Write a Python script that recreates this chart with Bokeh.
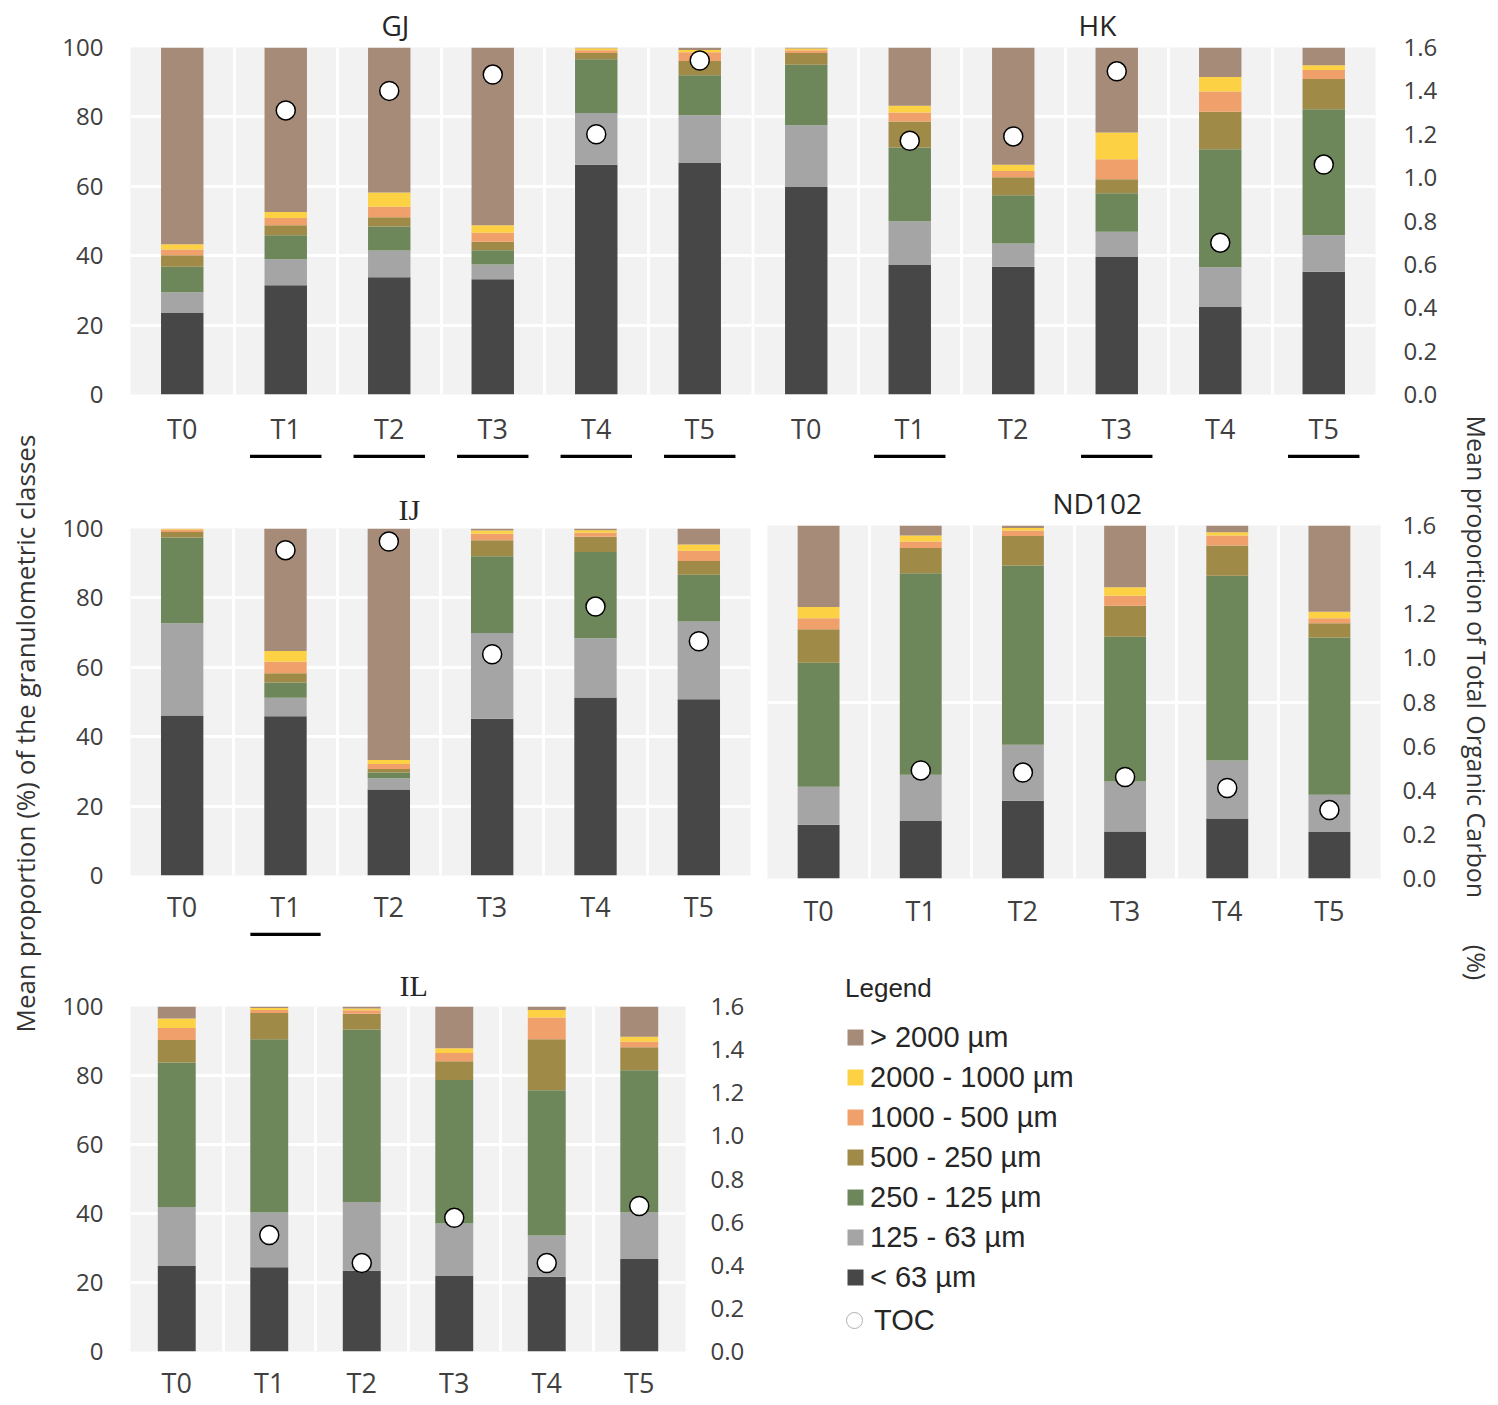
import numpy as np
from bokeh.plotting import figure
from bokeh.models import (ColumnDataSource, Range1d, LinearAxis, FixedTicker, Label,
                          Legend, LegendItem, PrintfTickFormatter)
from bokeh.layouts import row, column
from bokeh.embed import file_html
from bokeh.resources import INLINE

# ---------------- data ----------------
TIMES = ["T0", "T1", "T2", "T3", "T4", "T5"]
CLASSES = ["< 63 µm", "125 - 63 µm", "250 - 125 µm", "500 - 250 µm",
           "1000 - 500 µm", "2000 - 1000 µm", "> 2000 µm"]
KEYS = ["c63", "c125", "c250", "c500", "c1000", "c2000", "c2000p"]
COLORS = ["#474747", "#a5a5a5", "#6d875a", "#a08a47", "#f0a16b", "#fcd144", "#a78b79"]

# mean proportion (%) per class (bottom -> top), columns T0..T5
GJ_PCT = [
    [23.5, 31.5, 33.8, 33.2, 66.2, 66.7],
    [6.0, 7.5, 7.7, 4.3, 14.9, 13.8],
    [7.3, 6.9, 6.9, 4.1, 15.5, 11.5],
    [3.3, 2.9, 2.7, 2.4, 1.8, 4.1],
    [1.7, 2.1, 3.0, 2.6, 0.8, 2.5],
    [1.5, 1.7, 4.1, 2.2, 0.6, 0.7],
    [56.7, 47.4, 41.8, 51.2, 0.2, 0.7],
]
HK_PCT = [
    [59.8, 37.3, 36.8, 39.6, 25.2, 35.4],
    [17.8, 12.6, 6.7, 7.3, 11.5, 10.5],
    [17.4, 21.3, 13.9, 11.1, 34.0, 36.3],
    [3.4, 7.5, 5.2, 4.0, 10.8, 8.7],
    [0.8, 2.6, 1.8, 5.8, 5.8, 2.6],
    [0.5, 1.9, 1.8, 7.7, 4.2, 1.4],
    [0.3, 16.8, 33.8, 24.5, 8.5, 5.1],
]
IJ_PCT = [
    [46.1, 45.9, 24.8, 45.2, 51.3, 50.8],
    [26.6, 5.3, 3.2, 24.7, 17.1, 22.4],
    [24.7, 4.4, 1.7, 22.1, 24.8, 13.5],
    [1.6, 2.7, 1.0, 4.6, 4.4, 3.9],
    [0.7, 3.3, 1.4, 1.9, 1.2, 3.0],
    [0.2, 3.1, 1.2, 0.9, 0.7, 1.8],
    [0.1, 35.3, 66.7, 0.6, 0.5, 4.6],
]
ND_PCT = [
    [15.2, 16.3, 22.0, 13.3, 17.0, 13.2],
    [10.8, 13.1, 15.9, 14.2, 16.4, 10.5],
    [35.1, 57.1, 50.8, 41.0, 52.4, 44.6],
    [9.5, 7.1, 8.3, 8.8, 8.5, 4.0],
    [3.1, 1.9, 1.6, 2.8, 2.9, 1.4],
    [3.2, 1.7, 0.7, 2.4, 0.9, 1.9],
    [23.1, 2.8, 0.7, 17.5, 1.9, 24.4],
]
IL_PCT = [
    [24.8, 24.4, 23.4, 21.9, 21.7, 26.8],
    [17.1, 15.9, 19.9, 15.2, 11.9, 13.5],
    [41.9, 50.2, 50.0, 41.6, 42.1, 41.2],
    [6.5, 7.6, 4.6, 5.4, 14.8, 6.7],
    [3.5, 0.9, 1.0, 2.4, 6.3, 1.6],
    [2.7, 0.6, 0.5, 1.4, 2.2, 1.4],
    [3.5, 0.4, 0.6, 12.1, 1.0, 8.8],
]

# mean Total Organic Carbon (%), T0 not shown
NAN = float("nan")
GJ_TOC = [NAN, 1.31, 1.40, 1.475, 1.20, 1.54]
HK_TOC = [NAN, 1.17, 1.19, 1.49, 0.70, 1.06]
IJ_TOC = [NAN, 1.50, 1.54, 1.02, 1.24, 1.08]
ND_TOC = [NAN, 0.49, 0.48, 0.46, 0.41, 0.31]
IL_TOC = [NAN, 0.54, 0.41, 0.62, 0.41, 0.675]

# significance underlines
GJ_SIG = [0, 1, 1, 1, 1, 1]
HK_SIG = [0, 1, 0, 1, 0, 1]
IJ_SIG = [0, 1, 0, 0, 0, 0]

PCT_TICKS = [0, 20, 40, 60, 80, 100]
TOC_TICKS = [0.0, 0.2, 0.4, 0.6, 0.8, 1.0, 1.2, 1.4, 1.6]

TEXT = "#404040"
TITLE_C = "#262626"
FONT = "Open Sans"
BG = "#f2f2f2"


def blank(p):
    p.outline_line_color = None
    p.border_fill_color = "white"
    p.background_fill_color = "white"
    p.xgrid.visible = False
    p.ygrid.visible = False


def make_panel(width, height, left, right, top, bottom, pct, toc, title,
               show_left, show_right, ygrid_ticks, x_standoff,
               title_offset=0, title_font=FONT, title_size="28px", title_standoff=4,
               yl_standoff=27, yr_standoff=28, bar_width=0.41, xfont="27px"):
    n = len(pct[0])
    centers = [i + 0.5 for i in range(n)]
    p = figure(width=width, height=height, x_range=Range1d(0, n), y_range=Range1d(0, 100),
               y_axis_location="left" if show_left else None, title=title,
               output_backend="svg", toolbar_location=None,
               min_border_left=left, min_border_right=right,
               min_border_top=top, min_border_bottom=bottom)
    p.title.align = "left"
    p.title.offset = title_offset
    p.title.standoff = title_standoff
    p.title.text_font = title_font
    p.title.text_font_size = title_size
    p.title.text_font_style = "normal"
    p.title.text_color = TITLE_C

    p.extra_y_ranges = {"toc": Range1d(0, 1.6)}
    if show_right:
        p.add_layout(LinearAxis(y_range_name="toc", ticker=FixedTicker(ticks=TOC_TICKS),
                                formatter=PrintfTickFormatter(format="%.1f")), "right")
    p.background_fill_color = BG
    p.border_fill_color = "white"
    p.outline_line_color = None

    p.xgrid.ticker = FixedTicker(ticks=list(range(1, n)))
    p.ygrid.ticker = FixedTicker(ticks=ygrid_ticks)
    for g in (p.xgrid, p.ygrid):
        g.grid_line_color = "white"
        g.grid_line_width = 3

    p.xaxis.ticker = FixedTicker(ticks=centers)
    p.xaxis.major_label_overrides = {c: t for c, t in zip(centers, TIMES)}
    p.xaxis.major_label_text_font_size = xfont
    p.xaxis.major_label_standoff = x_standoff
    if show_left:
        p.yaxis[0].ticker = FixedTicker(ticks=PCT_TICKS)
    for ax in p.axis:
        ax.axis_line_color = None
        ax.major_tick_line_color = None
        ax.minor_tick_line_color = None
        ax.major_tick_out = 0
        ax.major_tick_in = 0
        ax.minor_tick_out = 0
        ax.minor_tick_in = 0
        ax.major_label_text_font = FONT
        ax.major_label_text_color = TEXT
    for ax in p.yaxis:
        ax.major_label_text_font_size = "24px"
    if show_left:
        p.yaxis[0].major_label_standoff = yl_standoff
    if show_right:
        p.yaxis[-1].major_label_standoff = yr_standoff

    data = {"x": centers, "toc": np.array(toc, dtype=float)}
    for k, vals in zip(KEYS, pct):
        data[k] = vals
    src = ColumnDataSource(data)
    p.vbar_stack(KEYS, x="x", width=bar_width, fill_color=COLORS, line_color=None, source=src)
    p.scatter("x", "toc", source=src, y_range_name="toc", marker="circle", size=19,
              fill_color="white", line_color="black", line_width=1.5)
    return p


def make_strip(width, left, right, flags, height=8, bar=0.69):
    n = len(flags)
    s = figure(width=width, height=height, x_range=Range1d(0, n), y_range=Range1d(0, 1),
               x_axis_location=None, y_axis_location=None, title=None,
               output_backend="svg", toolbar_location=None,
               min_border_left=left, min_border_right=right,
               min_border_top=0, min_border_bottom=0)
    blank(s)
    xs = [i + 0.5 for i, f in enumerate(flags) if f]
    s.rect(x=xs, y=0.5, width=bar, height=1, fill_color="black", line_color=None)
    return s


def blank_fig(width, height, left, top):
    f = figure(width=width, height=height, x_range=Range1d(0, 1), y_range=Range1d(0, 1),
               x_axis_location=None, y_axis_location=None, title=None,
               output_backend="svg", toolbar_location=None,
               min_border_left=left, min_border_right=0, min_border_top=top,
               min_border_bottom=0)
    blank(f)
    return f


LEG_STYLE = dict(border_line_color=None, background_fill_alpha=0, margin=0, padding=0,
                 spacing=0, label_height=40, label_text_font="Liberation Sans",
                 label_text_font_size="29px", label_text_color=TITLE_C)

# ---------------- top row: GJ | HK ----------------
gj = make_panel(702, 450, 80, 1, 47, 56, GJ_PCT, GJ_TOC, "GJ",
                True, False, [20, 40, 60, 80], x_standoff=15, title_offset=251,
                title_standoff=7)
hk = make_panel(693, 450, 2, 70, 47, 56, HK_PCT, HK_TOC, "HK",
                False, True, [20, 40, 60, 80], x_standoff=15, title_offset=324,
                title_standoff=7)
strip_gj = make_strip(702, 80, 1, GJ_SIG)
strip_hk = make_strip(693, 2, 70, HK_SIG)

# ---------------- middle row: IJ | ND102 ----------------
ij = make_panel(708, 470, 80, 8, 70, 53, IJ_PCT, IJ_TOC, "IJ",
                True, False, [20, 40, 60, 80], x_standoff=12, title_offset=268,
                title_font="Liberation Serif", title_size="30px", title_standoff=6)
strip_ij = make_strip(708, 80, 8, IJ_SIG, bar=0.68)

nd = make_panel(687, 478, 9, 65, 67, 58, ND_PCT, ND_TOC, "ND102",
                False, True, [50], x_standoff=13, yr_standoff=22, title_offset=285,
                title_standoff=7)

# ---------------- bottom row: IL | legend ----------------
il = make_panel(710, 467, 80, 75, 70, 51, IL_PCT, IL_TOC, "IL",
                True, True, [20, 40, 60, 80], x_standoff=12, yr_standoff=25,
                title_offset=269, title_font="Liberation Serif", title_size="30px",
                title_standoff=9)

leg1 = blank_fig(685, 364, 85, 37)
items = []
for name, color in reversed(list(zip(CLASSES, COLORS))):
    r = leg1.vbar(x=np.array([NAN]), top=np.array([NAN]), width=0.1,
                  fill_color=color, line_color=None)
    items.append(LegendItem(label=name, renderers=[r]))
leg1.add_layout(Legend(items=items, location="top_left", title="Legend",
                       glyph_height=20, glyph_width=20, label_standoff=5,
                       title_text_font="Liberation Sans", title_text_font_size="26px",
                       title_text_font_style="normal", title_text_color=TITLE_C,
                       title_standoff=13, **LEG_STYLE))

leg2 = blank_fig(685, 103, 74, 0)
rt = leg2.scatter(x=np.array([NAN]), y=np.array([NAN]), marker="circle", size=14,
                  fill_color="white", line_color="#b0b0b0", line_width=1)
leg2.add_layout(Legend(items=[LegendItem(label="TOC", renderers=[rt])], location="top_left",
                       glyph_height=40, glyph_width=40, label_standoff=0, **LEG_STYLE))

# ---------------- side titles ----------------
H = 1403
left_t = figure(width=50, height=H, x_range=Range1d(0, 50), y_range=Range1d(H, 0),
                x_axis_location=None, y_axis_location=None, title=None,
                output_backend="svg", toolbar_location=None,
                min_border_left=0, min_border_right=0, min_border_top=0, min_border_bottom=0)
blank(left_t)
left_t.add_layout(Label(x=24, y=1032, text="Mean proportion  (%) of the granulometric classes",
                        angle=np.pi / 2, text_font=FONT, text_font_size="26px",
                        text_color="#333333", text_align="left", text_baseline="middle"))

right_t = figure(width=50, height=H, x_range=Range1d(0, 50), y_range=Range1d(H, 0),
                 x_axis_location=None, y_axis_location=None, title=None,
                 output_backend="svg", toolbar_location=None,
                 min_border_left=0, min_border_right=0, min_border_top=0, min_border_bottom=0)
blank(right_t)
right_t.add_layout(Label(x=31, y=415, text="Mean proportion of Total Organic Carbon",
                         angle=-np.pi / 2, text_font=FONT, text_font_size="25px",
                         text_color="#333333", text_align="left", text_baseline="middle"))
right_t.add_layout(Label(x=31, y=962, text="(%)",
                         angle=-np.pi / 2, text_font=FONT, text_font_size="25px",
                         text_color="#333333", text_align="center", text_baseline="middle"))

middle = column(row(column(gj, strip_gj), column(hk, strip_hk)),
                row(column(ij, strip_ij), nd),
                row(column(il), column(column(leg1), column(leg2))))
page = row(left_t, middle, right_t)

open("out.html", "w").write(file_html(page, INLINE))
